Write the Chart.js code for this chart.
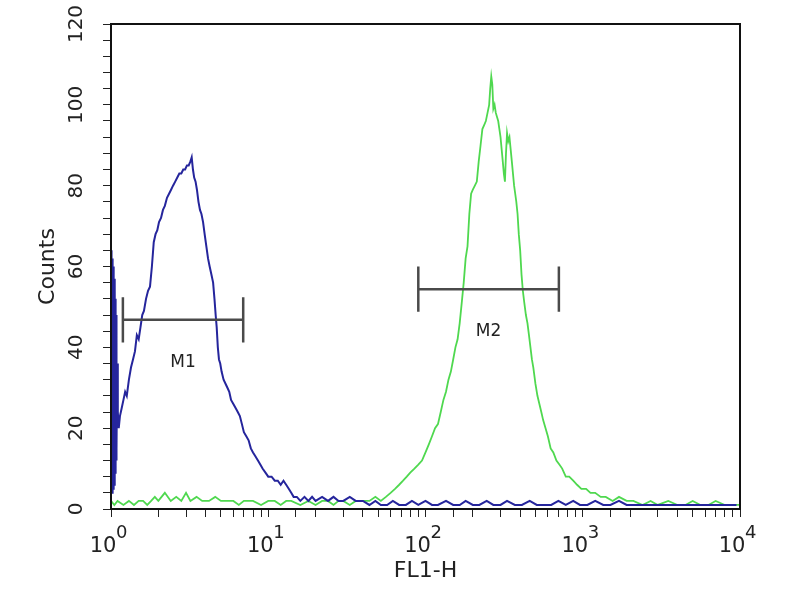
<!DOCTYPE html>
<html><head><meta charset="utf-8">
<script src="https://cdn.jsdelivr.net/npm/chart.js@4/dist/chart.umd.min.js"></script>
<style>html,body{margin:0;padding:0;background:#fff}</style>
</head><body>
<canvas id="c" width="800" height="600"></canvas>
<script>
// ---- data ----
const decades = [1, 10, 100, 1000, 10000];
const yTickLabels = [0, 20, 40, 60, 80, 100, 120];
const xTitle = 'FL1-H';
const yTitle = 'Counts';

const blueX = [1.000,1.004,1.008,1.012,1.016,1.020,1.024,1.028,1.032,1.036,1.040,1.044,1.048,1.052,1.056,1.060,1.064,1.068,1.072,1.076,1.080,1.084,1.088,1.095,1.105,1.12,1.14,1.17,1.2,1.23,1.26,1.3,1.34,1.38,1.42,1.46,1.5,1.54,1.58,1.62,1.67,1.72,1.77,1.82,1.87,1.92,1.97,2.02,2.08,2.14,2.2,2.27,2.34,2.41,2.48,2.56,2.64,2.72,2.8,2.88,2.96,3.04,3.12,3.2,3.26,3.32,3.38,3.45,3.52,3.6,3.68,3.76,3.85,3.94,4.04,4.14,4.24,4.35,4.46,4.55,4.63,4.7,4.78,4.86,4.95,5.05,5.2,5.35,5.5,5.65,5.8,6.0,6.2,6.4,6.6,6.8,7.0,7.25,7.5,7.75,8.0,8.3,8.6,8.9,9.2,9.6,10,10.5,11,11.5,12,12.5,13,13.5,14,14.5,15.2,16,17,18,19,20,22,24,26,28,30,33,36,40,44,48,52,57,62,68,75,82,90,100,110,120,135,150,165,180,200,220,245,270,300,330,370,410,460,510,570,630,700,780,870,960,1070,1200,1350,1500,1700,1900,2100,2400,2700,3000,3400,3800,4300,4800,5400,6000,6800,7600,8600,9500,10000];
const blueY = [4,64,5,63,4,62,6,61,5,60,7,58,6,57,8,55,9,52,10,48,12,44,15,36,24,20,23,25,27,29,28,32,35,37,39,43,42,45,48,49,52,54,55,60,66,68,69,71,72,74,75,77,78,79,80,81,82,83,83,84,84,85,85,86,87,84,82,81,79,76,74,73,71,68,65,62,60,58,56,52,48,45,40,37,36,34,32,31,30,29,27,26,25,24,23,21,19,18,17,15,14,13,12,11,10,9,8,8,7,7,6,7,6,5,4,3,3,2,3,2,3,2,3,2,3,2,2,3,2,2,1,2,1,1,2,1,1,2,1,2,1,1,2,1,1,2,1,1,2,1,1,2,1,1,2,1,1,1,2,1,2,1,1,2,1,1,2,1,1,1,1,1,1,1,1,1,1,1,1,1,1,1];

const greenX = [1.0,1.05,1.1,1.2,1.3,1.4,1.5,1.6,1.7,1.8,1.9,2.0,2.2,2.4,2.6,2.8,3.0,3.2,3.5,3.8,4.2,4.6,5,5.5,6,6.5,7,8,9,10,11,12,13,14,16,18,20,22,24,26,28,30,33,36,40,44,48,52,56,60,64,68,72,76,80,85,90,95,100,105,110,115,120,125,130,135,140,145,150,155,160,165,170,175,180,185,190,195,200,206,212,218,224,230,236,242,248,254,258,262,266,270,275,280,285,290,295,300,305,310,315,320,325,330,336,342,348,354,360,366,372,378,385,392,400,408,416,425,435,445,455,465,475,485,500,515,530,545,560,580,600,625,650,680,710,740,780,820,870,920,980,1050,1120,1200,1300,1400,1550,1700,1900,2100,2400,2700,3000,3500,4000,4500,5000,5600,6300,7000,8000,9000,10000];
const greenY = [2,1,2,1,2,1,2,2,1,2,3,2,4,2,3,2,4,2,3,2,2,3,2,2,2,1,2,2,1,2,2,1,2,2,1,2,1,2,2,1,2,2,1,2,2,2,3,2,3,4,5,6,7,8,9,10,11,12,14,16,18,20,21,24,27,29,32,34,37,40,42,46,51,56,62,65,73,78,79,80,81,86,90,94,95,96,98,100,104,107,105,99,100,98,97,96,94,92,89,86,83,81,88,93,91,92,89,86,83,80,78,76,73,68,64,58,54,51,48,46,43,40,37,35,31,28,26,24,22,20,18,15,14,12,11,10,8,8,7,6,5,5,4,4,3,3,2,3,2,2,1,2,1,2,1,1,2,1,1,2,1,1,1];

const markerNames = ['M1', 'M2'];
const markerStart = [1.19, 90];
const markerEnd = [6.93, 705];
const markerLevel = [46.8, 54.4];

// ---- build datasets ----
const toPts = (xs, ys) => xs.map((x, i) => ({x, y: ys[i]}));
const CAP = 5.6;
const markerPts = [];
markerNames.forEach((n, i) => {
  const a = markerStart[i], b = markerEnd[i], l = markerLevel[i];
  markerPts.push({x:a,y:l+CAP},{x:a,y:l-CAP},{x:a,y:null},
                 {x:a,y:l},{x:b,y:l},{x:b,y:null},
                 {x:b,y:l+CAP},{x:b,y:l-CAP},{x:b,y:null});
});

const FONT = 'DejaVu Sans';
const TXT = '#222';

const overlay = {
  id: 'overlay',
  afterDraw(chart) {
    const {ctx, chartArea: a, scales: {x, y}} = chart;
    ctx.save();
    ctx.strokeStyle = '#111';
    ctx.lineWidth = 2;
    ctx.strokeRect(a.left, a.top, a.right - a.left, a.bottom - a.top);
    // exponents of decade labels
    ctx.fillStyle = TXT;
    ctx.font = '18px "' + FONT + '"';
    ctx.textAlign = 'left';
    ctx.textBaseline = 'alphabetic';
    decades.forEach(d => {
      const px = x.getPixelForValue(d);
      ctx.fillText(String(Math.round(Math.log10(d))), px + 5, 538);
    });
    // marker labels
    ctx.font = '17px "' + FONT + '"';
    ctx.textAlign = 'center';
    ctx.textBaseline = 'middle';
    markerNames.forEach((n, i) => {
      const cx = Math.sqrt(markerStart[i] * markerEnd[i]);
      ctx.fillText(n, x.getPixelForValue(cx), y.getPixelForValue(markerLevel[i] - 10.5));
    });
    ctx.restore();
  }
};

new Chart(document.getElementById('c'), {
  type: 'line',
  data: {
    datasets: [
      {label: 'marker', data: markerPts, borderColor: '#4a4a4a', borderWidth: 2.5, pointRadius: 0, spanGaps: false, tension: 0},
      {label: 'blue', data: toPts(blueX, blueY), borderColor: '#25259c', borderWidth: 2, pointRadius: 0, tension: 0},
      {label: 'green', data: toPts(greenX, greenY), borderColor: '#4fd84f', borderWidth: 1.8, pointRadius: 0, tension: 0}
    ]
  },
  options: {
    responsive: false,
    animation: false,
    layout: {padding: {left: 0, right: 60, top: 24, bottom: 0}},
    plugins: {legend: {display: false}, tooltip: {enabled: false}},
    scales: {
      x: {
        type: 'logarithmic', min: 1, max: 10000,
        afterFit(s) { s.height = 91; },
        border: {color: '#111', width: 2},
        grid: {drawOnChartArea: false, drawTicks: true, tickLength: 8, color: '#222'},
        ticks: {
          autoSkip: false, maxRotation: 0, minRotation: 0, padding: 17, labelOffset: -8,
          color: TXT, font: {family: FONT, size: 21},
          callback: (v) => decades.includes(v) ? '10' : ''
        },
        title: {display: true, text: xTitle, color: TXT, font: {family: FONT, size: 22}, padding: {top: 0, bottom: 16}}
      },
      y: {
        min: 0, max: 120,
        afterFit(s) { s.width = 111; },
        border: {color: '#111', width: 2},
        grid: {drawOnChartArea: false, drawTicks: true, tickLength: 8, color: '#222'},
        ticks: {
          stepSize: 4, autoSkip: false, minRotation: 90, maxRotation: 90, crossAlign: 'center', padding: 7,
          color: TXT, font: {family: FONT, size: 20},
          callback: (v) => yTickLabels.includes(v) ? String(v) : ''
        },
        title: {display: true, text: yTitle, color: TXT, font: {family: FONT, size: 22}, padding: {top: 35, bottom: 0}}
      }
    }
  },
  plugins: [overlay]
});
</script>
</body></html>
